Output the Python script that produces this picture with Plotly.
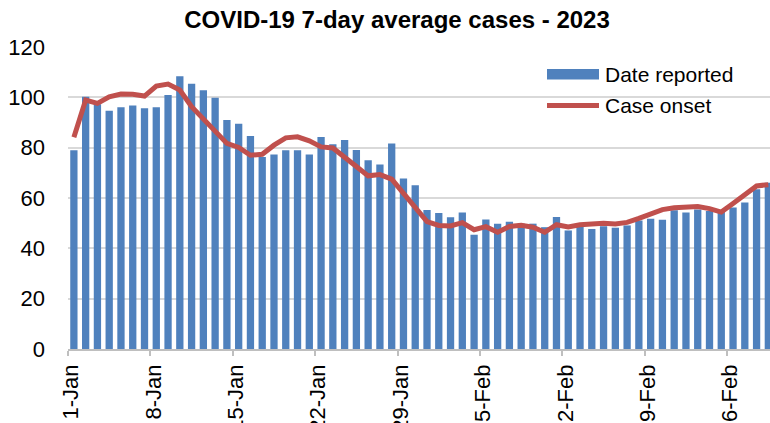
import pandas as pd
import plotly.graph_objects as go

# ---- data ----
start_date = "2023-01-01"
dates = pd.date_range(start_date, periods=60, freq="D")

date_reported = [
    79.0, 100.2, 97.3, 94.7, 96.1, 96.8, 95.7, 96.1, 100.9, 108.4,
    105.4, 102.8, 99.8, 91.0, 89.5, 84.6, 76.3, 77.3, 79.0, 79.0,
    77.3, 84.2, 81.4, 83.0, 79.1, 75.0, 73.3, 81.7, 67.7, 65.1,
    55.2, 54.0, 52.4, 54.2, 45.4, 51.5, 49.8, 50.6, 49.8, 49.8,
    48.4, 52.5, 47.1, 48.5, 47.7, 48.8, 48.2, 49.1, 51.1, 51.8,
    51.4, 55.1, 54.2, 55.4, 54.8, 54.8, 56.2, 58.2, 63.5, 66.1,
]
case_onset = [
    84.1, 98.9, 97.6, 100.2, 101.3, 101.2, 100.5, 104.5, 105.3, 102.9,
    96.3, 91.6, 86.3, 81.7, 80.1, 77.0, 77.4, 81.0, 83.9, 84.3,
    82.7, 80.3, 79.9, 76.5, 72.5, 68.8, 69.3, 67.5, 62.1, 56.6,
    50.6, 49.1, 48.9, 50.2, 47.4, 48.6, 46.4, 48.7, 49.2, 48.4,
    46.4, 49.4, 48.5, 49.4, 49.9, 50.0, 49.7, 50.3, 51.9, 53.7,
    55.4, 56.1, 56.4, 56.6, 55.8, 54.4, 57.8, 61.5, 64.8, 65.3,
]
series_names = ["Date reported", "Case onset"]
title_text = "COVID-19 7-day average cases - 2023"

# ---- style ----
FONT = "Liberation Sans, Arial, sans-serif"
BAR_COLOR = "#4f81bd"
LINE_COLOR = "#c0504d"
DAY_MS = 86400000

W, H = 770, 423
ML, MR, MT, MB = 68, 0, 47, 74
PW, PH = W - ML - MR, H - MT - MB


def px_x(px):
    return (px - ML) / PW


def px_y(py):
    return (H - MB - py) / PH


fig = go.Figure()
fig.add_trace(go.Bar(
    x=dates, y=date_reported, name=series_names[0],
    xperiod=DAY_MS, xperiodalignment="middle",
    width=0.62 * DAY_MS,
    marker=dict(color=BAR_COLOR, line=dict(width=0)),
    showlegend=False,
))
fig.add_trace(go.Scatter(
    x=dates, y=case_onset, name=series_names[1], mode="lines",
    xperiod=DAY_MS, xperiodalignment="middle",
    line=dict(color=LINE_COLOR, width=5),
    showlegend=False,
))

x_end = pd.Timestamp(start_date) + pd.Timedelta(days=59.64)

fig.update_layout(
    width=W, height=H,
    margin=dict(l=ML, r=MR, t=MT, b=MB, pad=0),
    paper_bgcolor="white", plot_bgcolor="white",
    font=dict(family=FONT, color="black"),
    title=dict(text=title_text, x=397 / W, xanchor="center",
               y=1 - 20 / H, yanchor="middle", yref="container",
               font=dict(size=24, weight="bold", family=FONT, color="black")),
    xaxis=dict(
        type="date", range=[pd.Timestamp(start_date), x_end],
        tick0=start_date, dtick=7 * DAY_MS, tickformat="%-d-%b",
        tickangle=-90, tickfont=dict(size=22),
        ticks="outside", ticklen=5, tickcolor="#bfbfbf", tickwidth=1.5,
        showline=True, linecolor="#bfbfbf", linewidth=1.5,
        showgrid=False, automargin=False, ticklabelstandoff=0,
        ticklabelshift=3,
    ),
    yaxis=dict(
        range=[0, 120], dtick=20, tickfont=dict(size=22),
        showgrid=True, gridcolor="#d9d9d9", gridwidth=1.5,
        zeroline=False, showline=False, automargin=False,
        ticklabelstandoff=22,
    ),
)

# custom legend (styled like the original)
fig.add_shape(type="rect", xref="paper", yref="paper",
              x0=px_x(547), x1=px_x(599), y0=px_y(79.5), y1=px_y(69),
              fillcolor=BAR_COLOR, line=dict(width=0))
fig.add_shape(type="line", xref="paper", yref="paper",
              x0=px_x(547), x1=px_x(599), y0=px_y(105.5), y1=px_y(105.5),
              line=dict(color=LINE_COLOR, width=5))
for name, py in zip(series_names, [74, 105]):
    fig.add_annotation(text=name, xref="paper", yref="paper",
                       x=px_x(603), y=px_y(py), xanchor="left", yanchor="middle",
                       showarrow=False, font=dict(size=21, family=FONT, color="black"))

fig.write_html(
    "out.html",
    config={"displayModeBar": False},
    post_script="document.body.style.margin='0';document.body.style.overflow='hidden';",
)
